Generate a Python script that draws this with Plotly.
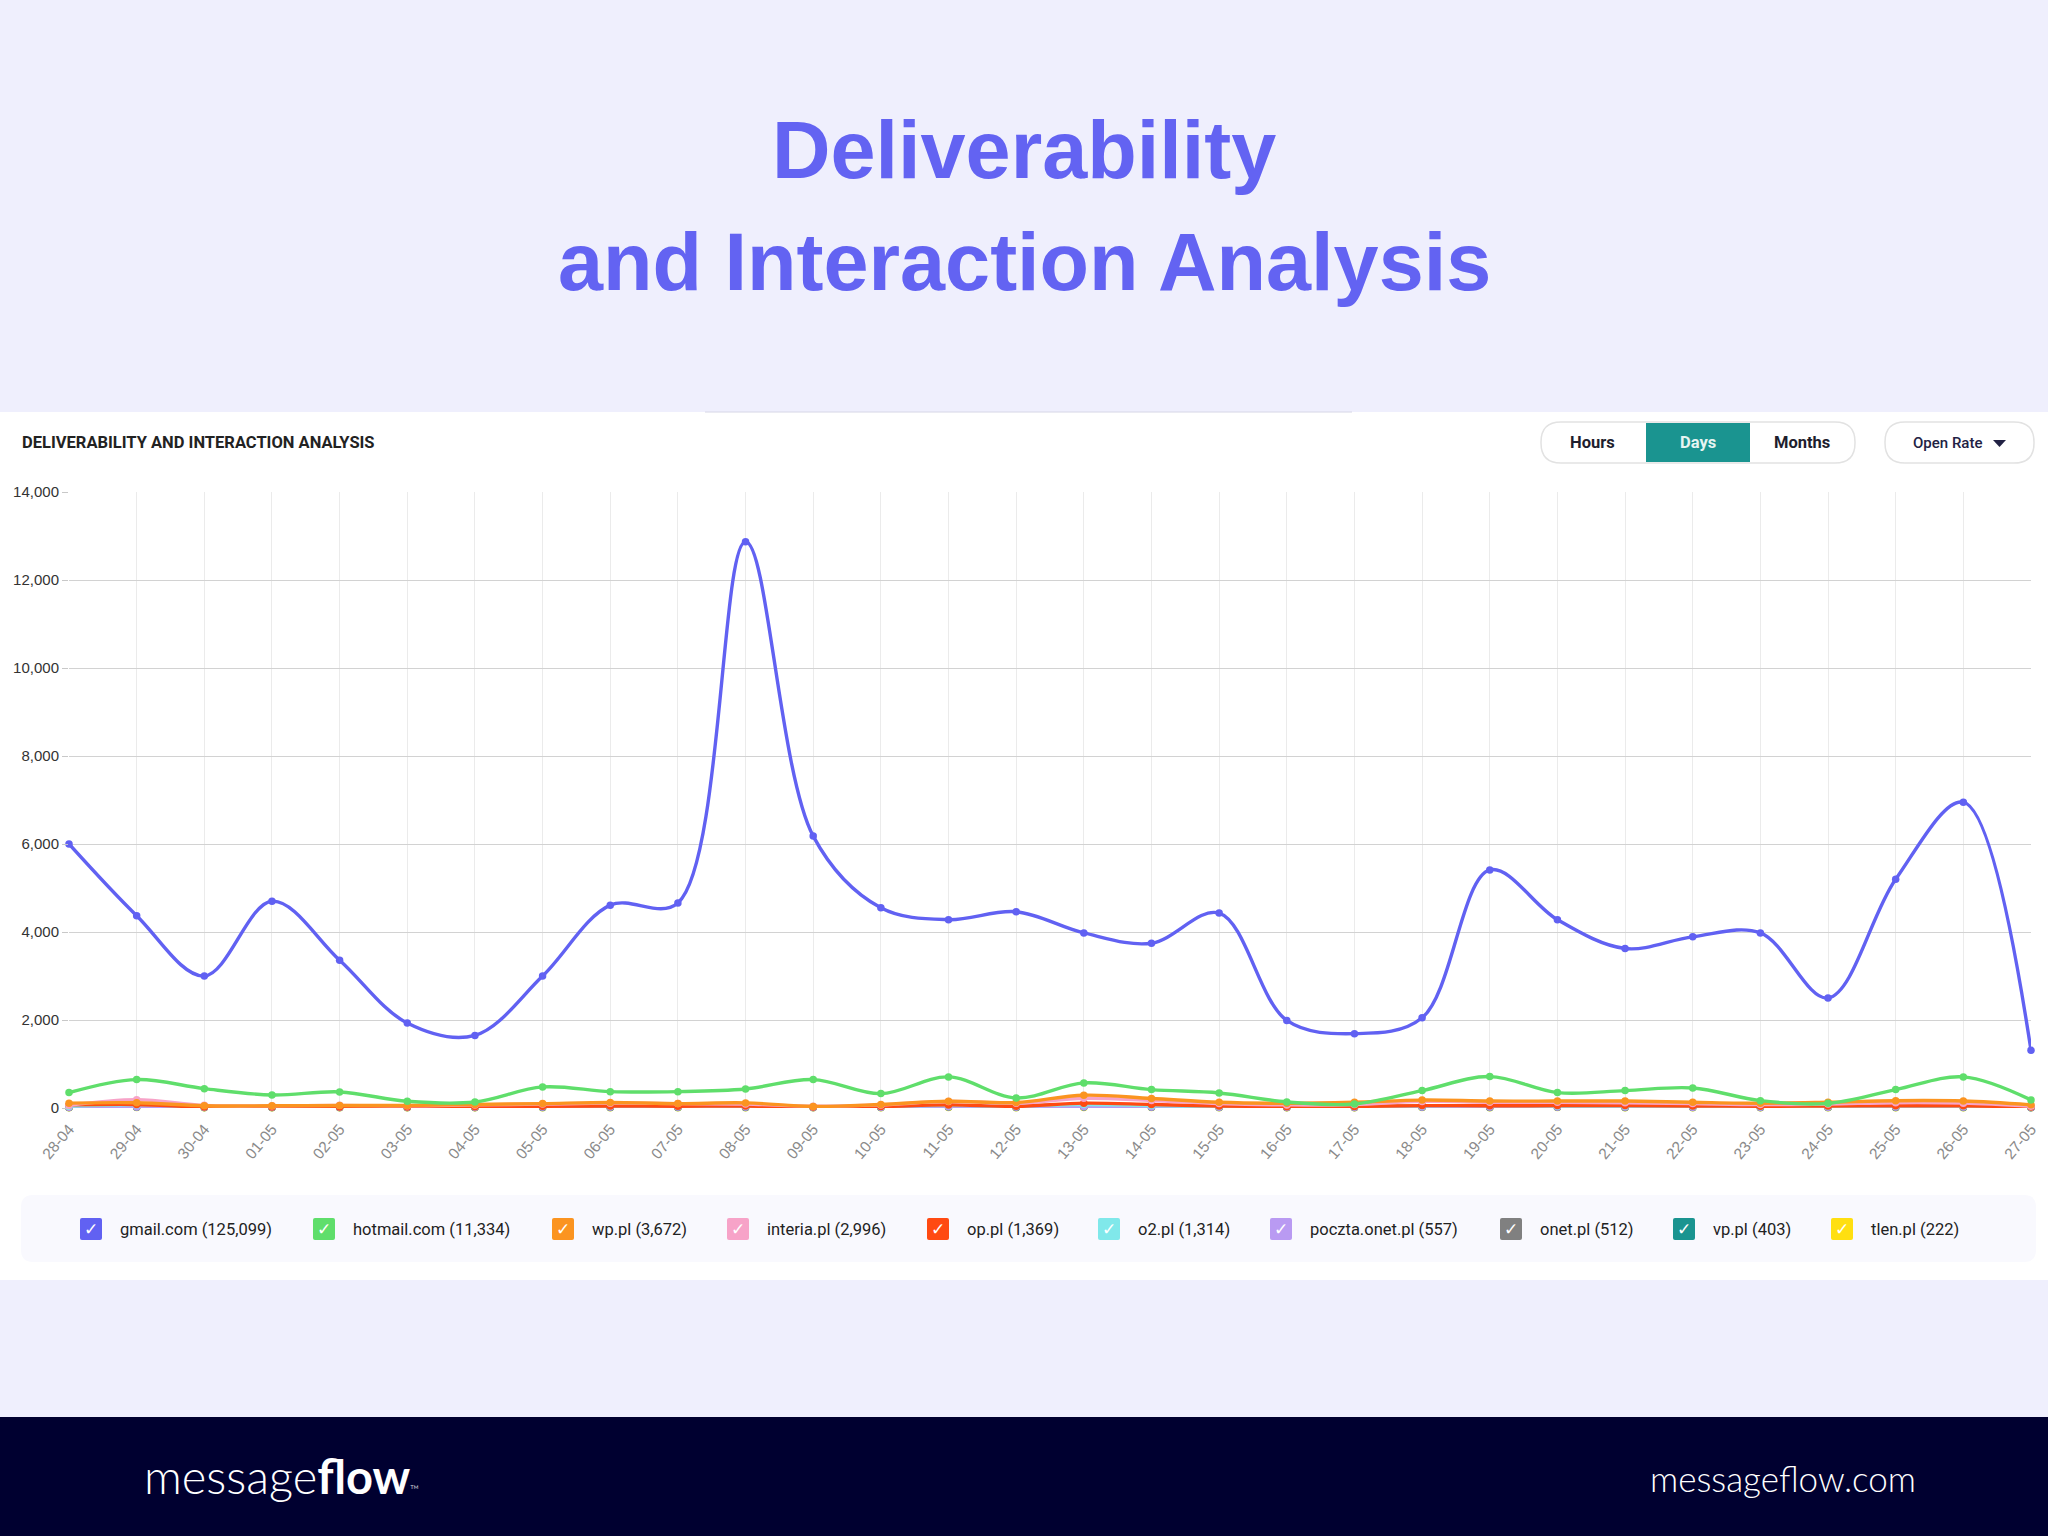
import plotly.graph_objects as go

# ---------------- data ----------------
dates = ["28-04", "29-04", "30-04", "01-05", "02-05", "03-05", "04-05", "05-05", "06-05", "07-05",
         "08-05", "09-05", "10-05", "11-05", "12-05", "13-05", "14-05", "15-05", "16-05", "17-05",
         "18-05", "19-05", "20-05", "21-05", "22-05", "23-05", "24-05", "25-05", "26-05", "27-05"]

series_names = ["gmail.com", "hotmail.com", "wp.pl", "interia.pl", "op.pl",
                "o2.pl", "poczta.onet.pl", "onet.pl", "vp.pl", "tlen.pl"]
series_totals = [125099, 11334, 3672, 2996, 1369, 1314, 557, 512, 403, 222]

gmail = [6000, 4370, 3000, 4700, 3360, 1930, 1650, 3000, 4610, 4660,
         12870, 6180, 4550, 4280, 4460, 3980, 3745, 4430, 1990, 1690,
         2050, 5410, 4280, 3625, 3890, 3980, 2500, 5200, 6950, 1310]
hotmail = [350, 646, 440, 296, 365, 152, 137, 479, 372, 372,
           433, 646, 327, 707, 228, 570, 418, 342, 137, 91,
           395, 714, 350, 395, 456, 167, 106, 418, 707, 182]
wp = [110, 118, 50, 50, 57, 57, 80, 100, 124, 100,
      116, 36, 80, 152, 124, 290, 216, 130, 108, 130,
      180, 158, 158, 158, 130, 108, 130, 166, 158, 72]
interia = [60, 190, 60, 50, 60, 50, 70, 90, 110, 100,
           90, 40, 70, 150, 110, 220, 170, 100, 70, 80,
           150, 130, 130, 120, 100, 80, 90, 120, 110, 40]
op = [70, 80, 20, 20, 25, 25, 30, 40, 45, 40,
      45, 20, 35, 70, 40, 110, 80, 45, 30, 35,
      55, 50, 55, 55, 45, 40, 45, 50, 50, 20]
o2 = [40, 70, 30, 30, 35, 30, 35, 45, 45, 45,
      45, 30, 40, 60, 45, 80, 55, 40, 35, 35,
      50, 55, 45, 45, 40, 35, 40, 45, 45, 25]
poczta = [15, 25, 15, 15, 15, 15, 15, 20, 20, 20,
          20, 12, 18, 28, 20, 30, 25, 18, 15, 15,
          22, 20, 22, 20, 18, 15, 18, 20, 20, 10]
onet = [14, 22, 14, 14, 14, 14, 14, 18, 18, 18,
        18, 11, 16, 26, 18, 28, 22, 16, 13, 13,
        20, 18, 20, 18, 16, 13, 16, 18, 18, 9]
vp = [11, 18, 11, 11, 11, 11, 11, 14, 14, 14,
      14, 9, 12, 20, 14, 22, 17, 12, 10, 10,
      16, 14, 16, 14, 12, 10, 12, 14, 14, 7]
tlen = [6, 10, 6, 6, 6, 6, 6, 8, 8, 8,
        8, 5, 7, 11, 8, 12, 9, 7, 5, 5,
        9, 8, 9, 8, 7, 5, 7, 8, 8, 4]

y_ticks = [0, 2000, 4000, 6000, 8000, 10000, 12000, 14000]

series_values = [gmail, hotmail, wp, interia, op, o2, poczta, onet, vp, tlen]

# ---------------- styles ----------------
colors = ["#6161F2", "#5FDE6B", "#FB9420", "#F7A3C8", "#FF4A12",
          "#80E8EA", "#B99AF2", "#808080", "#1A9490", "#FFDF10"]
legend_box_cx = [91, 324, 563, 738, 938, 1109, 1281, 1511, 1684, 1842]

W, H = 2048, 1536


def px(x):
    return x / W


def py(y):
    return 1 - y / H


def rrect(x0, y0, x1, y1, r):
    pts = [
        ("M", (x0 + r, y0)), ("L", (x1 - r, y0)), ("Q", (x1, y0), (x1, y0 + r)),
        ("L", (x1, y1 - r)), ("Q", (x1, y1), (x1 - r, y1)), ("L", (x0 + r, y1)),
        ("Q", (x0, y1), (x0, y1 - r)), ("L", (x0, y0 + r)), ("Q", (x0, y0), (x0 + r, y0)),
    ]
    s = ""
    for seg in pts:
        s += seg[0] + " " + " ".join(f"{px(p[0]):.6f},{py(p[1]):.6f}" for p in seg[1:]) + " "
    return s + "Z"


idx = list(range(len(dates)))

fig = go.Figure()
# draw small series first, gmail last (on top)
for i in reversed(range(len(series_names))):
    fig.add_trace(go.Scatter(
        x=idx, y=series_values[i], name=series_names[i], mode="lines+markers",
        line=dict(color=colors[i], width=3.4, shape="spline", smoothing=1.0),
        marker=dict(size=7.5, color=colors[i]),
        cliponaxis=False, showlegend=False,
        hovertemplate="%{y:,}<extra>" + series_names[i] + "</extra>",
    ))

shapes = []
# backgrounds
shapes.append(dict(type="rect", xref="paper", yref="paper", x0=0, x1=1, y0=py(1280), y1=py(412),
                   fillcolor="white", line=dict(width=0), layer="below"))
shapes.append(dict(type="line", xref="paper", yref="paper", x0=px(705), x1=px(1352), y0=py(412), y1=py(412),
                   line=dict(color="#D6D6E6", width=1), layer="below"))
shapes.append(dict(type="rect", xref="paper", yref="paper", x0=0, x1=1, y0=0, y1=py(1417),
                   fillcolor="#000030", line=dict(width=0), layer="below"))
# buttons
shapes.append(dict(type="path", xref="paper", yref="paper", path=rrect(1541, 422, 1855, 463, 20),
                   fillcolor="white", line=dict(color="#E2E2E2", width=1.5)))
shapes.append(dict(type="rect", xref="paper", yref="paper", x0=px(1646), x1=px(1750), y0=py(462), y1=py(423),
                   fillcolor="#1A9490", line=dict(width=0)))
shapes.append(dict(type="path", xref="paper", yref="paper", path=rrect(1885, 422, 2034, 463, 20),
                   fillcolor="white", line=dict(color="#E2E2E2", width=1.5)))
shapes.append(dict(type="path", xref="paper", yref="paper",
                   path=f"M {px(1993):.6f},{py(440):.6f} L {px(2006):.6f},{py(440):.6f} L {px(1999.5):.6f},{py(447):.6f} Z",
                   fillcolor="#222244", line=dict(width=0)))
# legend panel
shapes.append(dict(type="path", xref="paper", yref="paper", path=rrect(21, 1195, 2036, 1262, 12),
                   fillcolor="#F9F9FE", line=dict(width=0), layer="below"))

annotations = []
# title
annotations.append(dict(text="<b>Deliverability</b>", x=0.5, y=py(150), xref="paper", yref="paper",
                        xanchor="center", yanchor="middle", showarrow=False,
                        font=dict(family="Liberation Sans, Arial", size=81, color="#6363F2")))
annotations.append(dict(text="<b>and Interaction Analysis</b>", x=0.5, y=py(262), xref="paper", yref="paper",
                        xanchor="center", yanchor="middle", showarrow=False,
                        font=dict(family="Liberation Sans, Arial", size=81, color="#6363F2")))
# chart header
annotations.append(dict(text="<b>DELIVERABILITY AND INTERACTION ANALYSIS</b>", x=px(20), y=py(442),
                        xref="paper", yref="paper", xanchor="left", yanchor="middle", showarrow=False,
                        font=dict(family="Roboto", size=16.5, color="#222222")))
for label, cx, col in [("Hours", 1592, "#1E1E2E"), ("Days", 1698, "#E6F4F2"), ("Months", 1802, "#1E1E2E")]:
    annotations.append(dict(text=f"<b>{label}</b>", x=px(cx), y=py(443), xref="paper", yref="paper",
                            xanchor="center", yanchor="middle", showarrow=False,
                            font=dict(family="Roboto", size=16.5, color=col)))
annotations.append(dict(text="Open Rate", x=px(1947), y=py(443), xref="paper", yref="paper",
                        xanchor="center", yanchor="middle", showarrow=False,
                        font=dict(family="Roboto", size=15, color="#222244", weight=500)))

# legend items
for i, name in enumerate(series_names):
    cx = legend_box_cx[i]
    shapes.append(dict(type="path", xref="paper", yref="paper", path=rrect(cx - 11, 1218, cx + 11, 1240, 2),
                       fillcolor=colors[i], line=dict(width=0)))
    annotations.append(dict(text="✓", x=px(cx), y=py(1229), xref="paper", yref="paper",
                            xanchor="center", yanchor="middle", showarrow=False,
                            font=dict(family="DejaVu Sans", size=17, color="white")))
    annotations.append(dict(text=f"{name} ({series_totals[i]:,})", x=px(cx + 27), y=py(1229),
                            xref="paper", yref="paper", xanchor="left", yanchor="middle", showarrow=False,
                            font=dict(family="Roboto", size=16.5, color="#222222")))

# footer
annotations.append(dict(text="message<b>flow</b><span style='font-size:12px'>™</span>", x=px(142), y=py(1476),
                        xref="paper", yref="paper", xanchor="left", yanchor="middle", showarrow=False,
                        font=dict(family="Lato", size=47, color="white", weight=300)))
annotations.append(dict(text="messageflow.com", x=px(1783), y=py(1478), xref="paper", yref="paper",
                        xanchor="center", yanchor="middle", showarrow=False,
                        font=dict(family="Lato", size=35, color="white", weight=300)))

fig.update_layout(
    width=W, height=H, autosize=False,
    margin=dict(l=0, r=0, t=0, b=0, pad=0, autoexpand=False),
    paper_bgcolor="#EFEFFD", plot_bgcolor="white",
    shapes=shapes, annotations=annotations,
    showlegend=False,
    xaxis=dict(domain=[px(69), px(2031)], range=[0, len(dates) - 1], automargin=False,
               tickmode="array", tickvals=idx, ticktext=dates, tickangle=-50,
               tickfont=dict(family="Liberation Sans, Arial", size=15.5, color="#8A8A8A"),
               showgrid=True, gridcolor="#EBEBEB", gridwidth=1,
               zeroline=False, showline=False, ticks="outside", ticklen=5, tickcolor="rgba(0,0,0,0)"),
    yaxis=dict(domain=[py(1108), py(492)], range=[0, 14000], automargin=False,
               tickmode="array", tickvals=y_ticks, tickformat=",",
               tickfont=dict(family="Liberation Sans, Arial", size=15, color="#333333"),
               showgrid=True, gridcolor="#D2D2D2", gridwidth=1,
               zeroline=False, showline=False, ticks="outside", ticklen=6, tickcolor="#C8C8C8"),
)

fig.write_html("out.html")
